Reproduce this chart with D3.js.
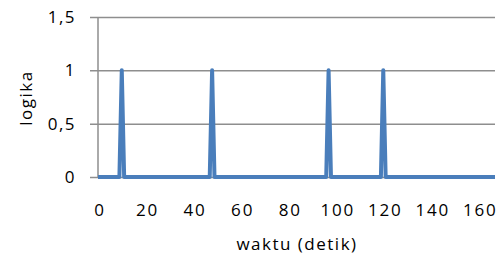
<!DOCTYPE html>
<html>
<head>
<meta charset="utf-8">
<script src="https://cdn.jsdelivr.net/npm/d3@7"></script>
<style>
    html, body { margin: 0; padding: 0; background: #fff; }
    text { font-family: "Open Sans", sans-serif; fill: #000; font-size: 17px; }
</style>
</head>
<body>
<div id="chart"></div>
<script>
// Data: time (s) and logic level at the break points
const times = [0, 9, 10, 11, 47, 48, 49, 96, 97, 98, 119, 120, 121, 167];
const logic = [0, 0, 1, 0, 0, 1, 0, 0, 1, 0, 0, 1, 0, 0];
const xTicks = [0, 20, 40, 60, 80, 100, 120, 140, 160];
const yTicks = [0, 0.5, 1, 1.5];

const W = 502, H = 257;
const margin = { top: 17, right: 7, bottom: 80, left: 98 };
const width = W - margin.left - margin.right;
const height = H - margin.top - margin.bottom;

const svg = d3.select('#chart')
    .append('svg')
    .attr('width', W)
    .attr('height', H);

const g = svg.append('g')
    .attr('transform', `translate(${margin.left}, ${margin.top})`);

const xScale = d3.scaleLinear().domain([0, 167]).range([0, width]);
const yScale = d3.scaleLinear().domain([0, 1.5]).range([height, 0]);

// Horizontal grid lines (with tick stub on the left)
g.append('g')
    .call(d3.axisLeft(yScale)
        .tickValues(yTicks)
        .tickSize(-width)
        .tickFormat(''))
    .call(s => s.select('.domain').remove())
    .selectAll('line')
    .attr('x1', -8)
    .attr('stroke', '#8e8e8e')
    .attr('stroke-width', 1.5);

// Y axis line
g.append('line')
    .attr('x1', 0).attr('x2', 0)
    .attr('y1', 0).attr('y2', height)
    .attr('stroke', '#8e8e8e')
    .attr('stroke-width', 1.5);

// Y tick labels
g.append('g')
    .selectAll('text')
    .data(yTicks)
    .enter()
    .append('text')
    .attr('x', -22)
    .attr('y', d => yScale(d))
    .attr('dy', '0.36em')
    .attr('text-anchor', 'end')
    .style('letter-spacing', '1.5px')
    .text(d => String(d).replace('.', ','));

// X tick labels
g.append('g')
    .selectAll('text')
    .data(xTicks)
    .enter()
    .append('text')
    .attr('x', d => xScale(d) + 2)
    .attr('y', height + 33)
    .attr('dy', '0.36em')
    .attr('text-anchor', 'middle')
    .style('letter-spacing', '1.8px')
    .text(d => d);

// Axis titles
svg.append('text')
    .attr('x', 297)
    .attr('y', 244)
    .attr('dy', '0.36em')
    .attr('text-anchor', 'middle')
    .style('letter-spacing', '1.5px')
    .text('waktu (detik)');

svg.append('text')
    .attr('transform', 'translate(26, 98) rotate(-90)')
    .attr('dy', '0.36em')
    .attr('text-anchor', 'middle')
    .style('letter-spacing', '1.5px')
    .text('logika');

// Signal line
const points = times.map((t, i) => ({ t: t, v: logic[i] }));
const line = d3.line()
    .x(d => xScale(d.t))
    .y(d => yScale(d.v));

g.append('path')
    .datum(points)
    .attr('fill', 'none')
    .attr('stroke', '#4a7ebb')
    .attr('stroke-width', 4)
    .attr('stroke-linejoin', 'round')
    .attr('d', line);
</script>
</body>
</html>
